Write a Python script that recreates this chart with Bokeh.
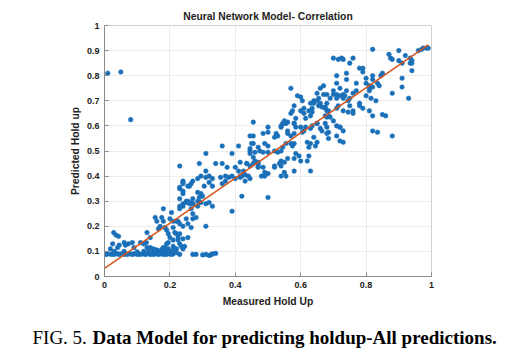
from bokeh.plotting import figure
from bokeh.layouts import column
from bokeh.models import FixedTicker, CustomJSTickFormatter, Range1d
from bokeh.core.properties import value
from bokeh.embed import file_html
from bokeh.resources import INLINE

# --- data ---
outlier_x = [0.01, 0.05, 0.08]
outlier_y = [0.81, 0.815, 0.625]

band_x = [0.00, 0.005, 0.01, 0.02, 0.025, 0.03, 0.04, 0.045, 0.05, 0.06, 0.065, 0.07, 0.08, 0.085,
          0.09, 0.10, 0.105, 0.11, 0.12, 0.125, 0.13, 0.14, 0.145, 0.15, 0.16, 0.165, 0.17, 0.18,
          0.185, 0.19, 0.20, 0.205, 0.21,
          0.03, 0.06, 0.10, 0.12, 0.135, 0.15, 0.16, 0.17, 0.175, 0.185, 0.19, 0.195, 0.20, 0.21,
          0.215, 0.22,
          0.23, 0.27, 0.28, 0.30, 0.31, 0.32, 0.325, 0.33, 0.34]
band_y = [0.09, 0.088, 0.09, 0.088, 0.09, 0.088, 0.09, 0.088, 0.09, 0.088, 0.09, 0.088, 0.09, 0.088,
          0.09, 0.088, 0.09, 0.088, 0.09, 0.088, 0.09, 0.088, 0.09, 0.088, 0.09, 0.088, 0.09, 0.088,
          0.09, 0.088, 0.09, 0.088, 0.09,
          0.10, 0.10, 0.098, 0.10, 0.102, 0.10, 0.105, 0.10, 0.108, 0.10, 0.105, 0.11, 0.10, 0.105,
          0.11, 0.095,
          0.088, 0.088, 0.088, 0.086, 0.088, 0.084, 0.086, 0.09, 0.092]

low_x = [0.018, 0.025, 0.028, 0.035, 0.04, 0.043, 0.045, 0.06, 0.064, 0.073, 0.085, 0.09, 0.11, 0.12,
         0.128, 0.13, 0.13, 0.14, 0.14, 0.15, 0.16, 0.18,
         0.155, 0.16, 0.165, 0.17, 0.175, 0.18, 0.18, 0.185, 0.185, 0.19, 0.19, 0.195, 0.195, 0.20,
         0.20, 0.205, 0.21, 0.21, 0.21, 0.215, 0.22, 0.22, 0.225, 0.225, 0.225, 0.23, 0.23, 0.23,
         0.23, 0.24, 0.24, 0.24, 0.25, 0.25, 0.255, 0.255, 0.265, 0.265, 0.27, 0.27, 0.27, 0.28,
         0.285, 0.295, 0.24, 0.245, 0.235, 0.22, 0.21]
low_y = [0.11, 0.13, 0.175, 0.165, 0.115, 0.16, 0.125, 0.135, 0.125, 0.13, 0.135, 0.115, 0.135, 0.13,
         0.135, 0.175, 0.115, 0.155, 0.115, 0.11, 0.105, 0.115,
         0.235, 0.22, 0.19, 0.20, 0.235, 0.27, 0.22, 0.195, 0.115, 0.185, 0.13, 0.17, 0.135, 0.155,
         0.23, 0.255, 0.145, 0.195, 0.22, 0.175, 0.17, 0.22, 0.155, 0.145, 0.22, 0.27, 0.21, 0.13,
         0.17, 0.15, 0.20, 0.28, 0.23, 0.295, 0.21, 0.155, 0.195, 0.27, 0.29, 0.25, 0.23, 0.235,
         0.28, 0.295, 0.11, 0.12, 0.12, 0.11, 0.12]

mid_x = [0.23, 0.23, 0.23, 0.24, 0.26, 0.24, 0.25, 0.26, 0.27, 0.29, 0.23, 0.24, 0.285, 0.295, 0.30,
         0.29, 0.27, 0.255, 0.265, 0.285, 0.31, 0.32, 0.33, 0.24, 0.23, 0.24, 0.24, 0.255, 0.265,
         0.27, 0.32, 0.33, 0.305, 0.36, 0.295, 0.285, 0.31, 0.32, 0.33, 0.29, 0.31, 0.34, 0.36,
         0.31, 0.31, 0.39, 0.42, 0.50, 0.375, 0.40, 0.41, 0.355, 0.37, 0.38, 0.39, 0.40, 0.415,
         0.43, 0.445, 0.39, 0.41, 0.455, 0.445, 0.46, 0.445, 0.455, 0.47, 0.47, 0.36, 0.37, 0.42,
         0.44, 0.425, 0.435]
mid_y = [0.44, 0.355, 0.31, 0.375, 0.36, 0.33, 0.30, 0.29, 0.29, 0.295, 0.35, 0.34, 0.335, 0.33, 0.32,
         0.315, 0.31, 0.30, 0.295, 0.30, 0.29, 0.295, 0.28, 0.29, 0.28, 0.38, 0.37, 0.36, 0.37,
         0.38, 0.375, 0.36, 0.36, 0.37, 0.40, 0.39, 0.395, 0.40, 0.39, 0.45, 0.49, 0.45, 0.45,
         0.42, 0.20, 0.26, 0.32, 0.315, 0.435, 0.435, 0.42, 0.395, 0.40, 0.395, 0.40, 0.39, 0.395,
         0.38, 0.39, 0.49, 0.52, 0.53, 0.50, 0.495, 0.44, 0.45, 0.45, 0.435, 0.52, 0.38, 0.40,
         0.40, 0.42, 0.45]

center_x = [0.455, 0.50, 0.50, 0.485, 0.52, 0.54, 0.55, 0.56, 0.56, 0.56, 0.58, 0.585, 0.605, 0.615,
            0.63, 0.635, 0.66, 0.675, 0.68, 0.685, 0.64, 0.65, 0.645, 0.62, 0.63, 0.625, 0.71, 0.72,
            0.73, 0.45, 0.445, 0.475, 0.485, 0.50, 0.52, 0.53, 0.54, 0.545, 0.555, 0.57, 0.575,
            0.58, 0.585, 0.595, 0.58, 0.56, 0.54, 0.535, 0.55, 0.445, 0.455, 0.415, 0.435, 0.47,
            0.485, 0.49, 0.50, 0.52, 0.54, 0.60, 0.62, 0.625, 0.63, 0.55, 0.58, 0.54, 0.555, 0.415,
            0.43, 0.455, 0.47, 0.49, 0.50, 0.445, 0.49, 0.48, 0.46, 0.47, 0.52, 0.65]
center_y = [0.615, 0.595, 0.575, 0.57, 0.555, 0.60, 0.61, 0.615, 0.58, 0.57, 0.61, 0.595, 0.575, 0.595,
            0.59, 0.60, 0.59, 0.61, 0.57, 0.575, 0.555, 0.535, 0.52, 0.535, 0.53, 0.515, 0.60, 0.595,
            0.535, 0.53, 0.51, 0.50, 0.495, 0.495, 0.50, 0.495, 0.50, 0.515, 0.53, 0.53, 0.52,
            0.53, 0.49, 0.48, 0.47, 0.47, 0.46, 0.45, 0.455, 0.49, 0.475, 0.455, 0.45, 0.44,
            0.435, 0.415, 0.41, 0.435, 0.44, 0.46, 0.46, 0.48, 0.42, 0.415, 0.42, 0.40, 0.40, 0.40,
            0.405, 0.56, 0.515, 0.53, 0.52, 0.56, 0.40, 0.40, 0.46, 0.455, 0.44, 0.61]

upper_x = [0.57, 0.59, 0.60, 0.605, 0.61, 0.64, 0.65, 0.655, 0.58, 0.575, 0.57, 0.60, 0.61, 0.615,
           0.625, 0.635, 0.675, 0.68, 0.685, 0.69, 0.70, 0.715, 0.71, 0.68, 0.72, 0.73, 0.60, 0.61,
           0.58, 0.585, 0.55, 0.555, 0.58, 0.57, 0.545, 0.54, 0.525, 0.53, 0.65, 0.665, 0.68, 0.71,
           0.72, 0.685, 0.63, 0.66]
upper_y = [0.75, 0.72, 0.715, 0.70, 0.67, 0.69, 0.70, 0.71, 0.68, 0.66, 0.65, 0.66, 0.65, 0.63,
           0.66, 0.655, 0.675, 0.66, 0.64, 0.635, 0.62, 0.68, 0.67, 0.635, 0.595, 0.58, 0.595, 0.58,
           0.61, 0.63, 0.62, 0.61, 0.57, 0.56, 0.61, 0.595, 0.57, 0.56, 0.61, 0.58, 0.595, 0.56,
           0.54, 0.55, 0.64, 0.69]

top_x = [0.82, 0.70, 0.715, 0.725, 0.73, 0.76, 0.75, 0.87, 0.875, 0.88, 0.90, 0.90, 0.91, 0.92, 0.935,
         0.94, 0.96, 0.975, 0.985, 0.99, 0.97, 0.79, 0.79, 0.71, 0.74, 0.74, 0.85, 0.845, 0.82, 0.82,
         0.91, 0.67, 0.71, 0.77, 0.80, 0.81, 0.81, 0.81, 0.835, 0.84, 0.88, 0.93, 0.91, 0.66, 0.65,
         0.64, 0.67, 0.68, 0.70, 0.71, 0.72, 0.73, 0.735, 0.69, 0.71, 0.73, 0.75, 0.745, 0.75, 0.76,
         0.78, 0.78, 0.79, 0.81, 0.82, 0.85, 0.86, 0.68, 0.655, 0.665, 0.675, 0.685, 0.73, 0.745,
         0.76, 0.63, 0.635, 0.675, 0.82, 0.835, 0.88, 0.94, 0.935, 0.94, 0.80, 0.78, 0.82, 0.80,
         0.815, 0.83, 0.72, 0.70, 0.76, 0.77, 0.74]
top_y = [0.905, 0.87, 0.865, 0.87, 0.865, 0.87, 0.85, 0.885, 0.87, 0.865, 0.90, 0.86, 0.85, 0.88, 0.87,
         0.85, 0.90, 0.91, 0.91, 0.91, 0.905, 0.83, 0.815, 0.80, 0.81, 0.785, 0.81, 0.80, 0.80, 0.785,
         0.79, 0.76, 0.77, 0.77, 0.77, 0.76, 0.74, 0.75, 0.77, 0.76, 0.73, 0.71, 0.755, 0.75, 0.73,
         0.70, 0.725, 0.725, 0.725, 0.725, 0.72, 0.725, 0.72, 0.71, 0.71, 0.71, 0.71, 0.70, 0.68, 0.66,
         0.69, 0.68, 0.67, 0.66, 0.64, 0.645, 0.64, 0.69, 0.68, 0.675, 0.67, 0.66, 0.66, 0.655,
         0.65, 0.69, 0.67, 0.64, 0.58, 0.575, 0.56, 0.82, 0.85, 0.86, 0.79, 0.83, 0.755, 0.72,
         0.71, 0.70, 0.75, 0.74, 0.73, 0.74, 0.74]

fit_x = [0.0, 0.99]
fit_y = [0.032, 0.923]

x_ticks = [0, 0.2, 0.4, 0.6, 0.8, 1]
y_ticks = [0, 0.1, 0.2, 0.3, 0.4, 0.5, 0.6, 0.7, 0.8, 0.9, 1]

title_text = "Neural Network Model- Correlation"
x_label = "Measured Hold Up"
y_label = "Predicted Hold up"
caption_plain = ["FIG. 5."]
caption_bold = ["Data Model for predicting holdup-All predictions."]

meas = outlier_x + band_x + low_x + mid_x + center_x + upper_x + top_x
pred = outlier_y + band_y + low_y + mid_y + center_y + upper_y + top_y

W = 507
H_MAIN = 312
H_CAP = 353 - H_MAIN

p = figure(width=W, height=H_MAIN, output_backend="svg", toolbar_location=None,
           x_range=Range1d(0, 1), y_range=Range1d(0, 1))
p.frame_align = False
p.min_border_left = 104
p.min_border_right = W - 431
p.min_border_top = 25
p.min_border_bottom = H_MAIN - 276
p.background_fill_color = "white"
p.border_fill_color = "white"
p.outline_line_color = "#d0d0d0"

p.title.text = title_text
p.title.align = "center"
p.title.text_font = "Liberation Sans"
p.title.text_font_size = "10.3px"
p.title.text_font_style = "bold"
p.title.text_color = "#222222"
p.title.standoff = 8

fmt = CustomJSTickFormatter(code="return String(Math.round(tick*10)/10);")
for ax, ticks in ((p.xaxis[0], x_ticks), (p.yaxis[0], y_ticks)):
    ax.ticker = FixedTicker(ticks=ticks)
    ax.formatter = fmt
    ax.major_tick_in = 4
    ax.major_tick_out = 0
    ax.minor_tick_in = 0
    ax.minor_tick_out = 0
    ax.axis_line_color = "#8a8a8a"
    ax.major_tick_line_color = "#8a8a8a"
    ax.major_label_text_font = "Liberation Sans"
    ax.major_label_text_font_size = "9px"
    ax.major_label_text_font_style = "bold"
    ax.major_label_text_color = "#222222"
    ax.axis_label_text_font = "Liberation Sans"
    ax.axis_label_text_font_size = "10.3px"
    ax.axis_label_text_font_style = "bold"
    ax.axis_label_text_color = "#222222"
    ax.major_label_standoff = 5

p.xaxis.axis_label = x_label
p.yaxis.axis_label = y_label
p.xaxis.axis_label_standoff = 5
p.yaxis.axis_label_standoff = 3

p.xgrid.ticker = FixedTicker(ticks=x_ticks)
p.ygrid.ticker = FixedTicker(ticks=y_ticks)
p.grid.grid_line_color = "#ececec"
p.grid.grid_line_width = 1

p.scatter(meas, pred, size=4.6, fill_color="#1a70b8", line_color="#1a70b8", line_width=0.5)
p.line(fit_x, fit_y, line_color="#D95319", line_width=1.5)

# caption panel
cap = figure(width=W, height=H_CAP, output_backend="svg", toolbar_location=None,
             x_range=Range1d(0, W), y_range=Range1d(0, H_CAP), min_border=0)
cap.frame_align = False
cap.axis.visible = False
cap.grid.visible = False
cap.outline_line_color = None
cap.background_fill_color = "white"
cap.border_fill_color = "white"
cap.text(x=[32], y=[16], text=caption_plain, text_font=value("Liberation Serif"),
         text_font_size="19px", text_color="black", text_baseline="alphabetic")
cap.text(x=[92], y=[16], text=caption_bold, text_font=value("Liberation Serif"),
         text_font_size="19px", text_font_style="bold", text_color="black",
         text_baseline="alphabetic")

layout = column(p, cap, spacing=0)
open("out.html", "w").write(file_html(layout, INLINE))
